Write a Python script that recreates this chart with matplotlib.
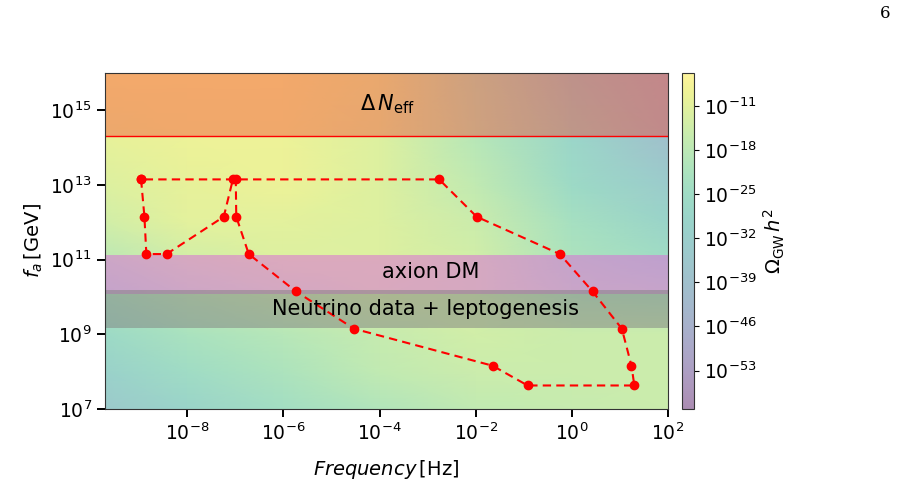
import numpy as np
import matplotlib
matplotlib.use('Agg')
import matplotlib.pyplot as plt
from matplotlib.colors import LogNorm, ListedColormap

# grid nodes of the background map (log10 of frequency [Hz] and f_a [GeV])
grid_logf = [-9.7, -8, -6, -4, -2, 0, 2]
grid_logfa = [7, 8, 9, 10, 11, 12, 13, 14.3, 16]
# log10(Omega_GW h^2)
grid_logomega = [
    [-34, -29, -24, -20, -17, -16, -15],
    [-30, -25, -21, -17, -15, -15, -15],
    [-26, -22, -19, -16, -14, -15, -15],
    [-22, -18, -15, -13, -14, -19, -20],
    [-18, -14, -12, -12, -14, -21, -25],
    [-14, -11, -11, -12, -15, -23, -29],
    [-12, -10, -9, -12, -17, -26, -33],
    [-10, -9, -9, -12, -19, -28, -39],
    [-8, -8, -8, -11, -20, -33, -42],
]

# red dashed contour (log10 values)
contour_logf = [-8.96, -8.89, -8.85, -8.43, -7.24, -7.05, -6.99, -6.98, -6.72, -5.74, -4.53,
                -1.65, -0.92, 1.30, 1.24, 1.04, 0.43, -0.25, -1.98, -2.76, -8.96]
contour_logfa = [13.15, 12.15, 11.15, 11.15, 12.15, 13.15, 13.15, 12.15, 11.15, 10.15, 9.15,
                 8.16, 7.63, 7.63, 8.16, 9.15, 10.15, 11.15, 12.15, 13.15, 13.15]

# excluded / preferred f_a ranges [GeV]
neff_band = (10**14.3, 1e16)
axion_band = (10**10.08, 10**11.12)
neutrino_band = (10**9.17, 10**10.19)

cbar_exps = [-11, -18, -25, -32, -39, -46, -53]

# viridis seen through alpha 0.45 on white, kept opaque so the gouraud mesh has no seams
vir = plt.get_cmap('viridis')(np.linspace(0, 1, 256))
vir[:, :3] = 0.45 * vir[:, :3] + 0.55
pale_viridis = ListedColormap(vir)

fig = plt.figure(figsize=(9.1, 4.9), dpi=100)
ax = fig.add_axes([105 / 910, 81 / 490, 563 / 910, 336 / 490])
cax = fig.add_axes([682 / 910, 81 / 490, 12 / 910, 336 / 490])

F, FA = np.meshgrid(10.0 ** np.array(grid_logf), 10.0 ** np.array(grid_logfa))
omega = 10.0 ** np.array(grid_logomega, dtype=float)
norm = LogNorm(vmin=10**-59.1, vmax=10**-5.8)
pc = ax.pcolormesh(F, FA, omega, shading='gouraud', cmap=pale_viridis, norm=norm,
                   antialiased=False, rasterized=True)

ax.axhspan(*neff_band, color=(0.96, 0.23, 0.16), alpha=0.4, lw=0)
ax.axhline(neff_band[0], color='red', lw=1)
ax.axhspan(*axion_band, color='orchid', alpha=0.55, lw=0)
ax.axhspan(*neutrino_band, color='gray', alpha=0.5, lw=0)

ax.plot(10.0 ** np.array(contour_logf), 10.0 ** np.array(contour_logfa), 'o--',
        color='red', lw=1.5, markersize=6, dashes=(4, 2.5))

ax.text(10**-3.84, 10**15.16, r'$\Delta\,N_{\rm eff}$', fontsize=15, ha='center', va='center')
ax.text(10**-2.94, 10**10.68, 'axion DM', fontsize=15, ha='center', va='center')
ax.text(10**-3.05, 10**9.68, 'Neutrino data + leptogenesis', fontsize=15, ha='center', va='center')

ax.set_xscale('log')
ax.set_yscale('log')
ax.set_xlim(10**-9.71, 1e2)
ax.set_ylim(1e7, 1e16)
ax.set_xticks([10.0**e for e in range(-8, 3, 2)])
ax.set_yticks([10.0**e for e in range(7, 16, 2)])
ax.minorticks_off()
ax.tick_params(labelsize=13.5, length=6, width=1.4)
ax.set_xlabel(r'$Frequency\,[{\rm Hz}]$', fontsize=14, labelpad=10)
ax.set_ylabel(r'$f_a\,[{\rm GeV}]$', fontsize=14, labelpad=4)
for s in ax.spines.values():
    s.set_color('#333333')

cbar = fig.colorbar(pc, cax=cax)
cbar.set_ticks([10.0**e for e in cbar_exps])
cbar.ax.minorticks_off()
cbar.ax.tick_params(labelsize=13.5, length=3.5, width=0.8)
cbar.set_label(r'$\Omega_{\rm GW}\,h^2$', fontsize=14)
cbar.outline.set_edgecolor('#333333')

fig.text(885 / 910, 1 - 14 / 490, '6', fontsize=12, family='DejaVu Serif', ha='center', va='center')

fig.savefig('out.png', dpi=100)
